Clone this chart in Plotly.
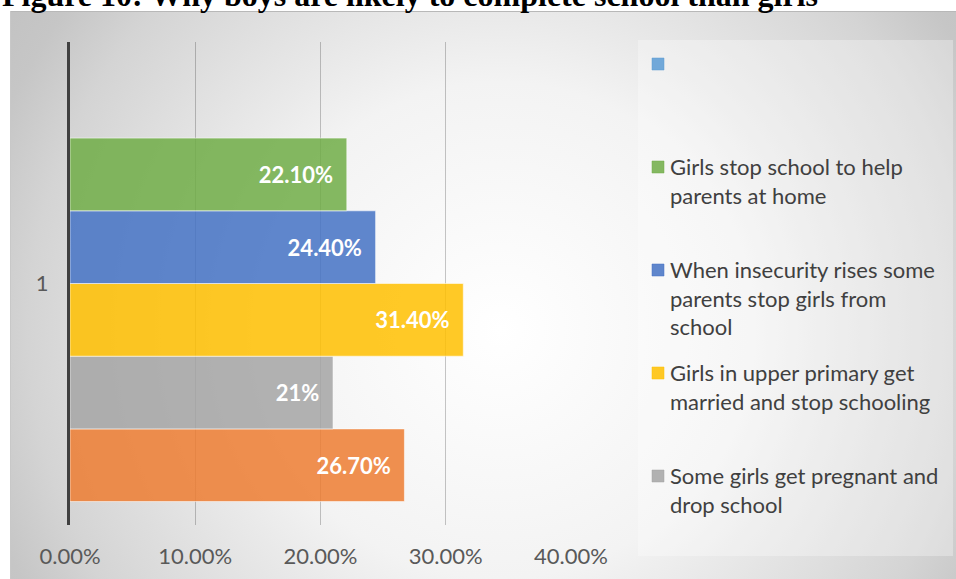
import base64
import plotly.graph_objects as go

W, H = 956, 579

# ---------------- data ----------------
category = ["1"]
# bottom -> top order of the bars
series_names = [
    "",  # orange series (its legend entry is cut off in the original)
    "Some girls get pregnant and<br>drop school",
    "Girls in upper primary get<br>married and stop schooling",
    "When insecurity rises some<br>parents stop girls from<br>school",
    "Girls stop school to help<br>parents at home",
    "",  # empty series shown only in legend
]
series_values = [0.267, 0.21, 0.314, 0.244, 0.221, None]
series_labels = ["26.70%", "21%", "31.40%", "24.40%", "22.10%", ""]
series_colors = ["#ed7d31", "#a5a5a5", "#ffc000", "#4472c4", "#70ad47", "#5b9bd5"]
in_legend = [False, True, True, True, True, True]

x_ticks = [0, 0.1, 0.2, 0.3, 0.4]
x_tick_text = ["0.00%", "10.00%", "20.00%", "30.00%", "40.00%"]

title_text = "Figure 10: Why boys are likely to complete school than girls"


def rgba(hexc, a):
    h = hexc.lstrip("#")
    r, g, b = int(h[0:2], 16), int(h[2:4], 16), int(h[4:6], 16)
    return f"rgba({r},{g},{b},{a})"


def px(x):
    return x / W


def py(y):
    return 1 - y / H


# ---------------- background (radial gradient) ----------------
svg = f'''<svg xmlns="http://www.w3.org/2000/svg" width="{W}" height="{H}" viewBox="0 0 {W} {H}" preserveAspectRatio="none">
<defs>
<radialGradient id="g" gradientUnits="userSpaceOnUse" cx="500" cy="330" r="620">
<stop offset="0" stop-color="#ffffff"/>
<stop offset="0.40" stop-color="#f3f3f3"/>
<stop offset="0.50" stop-color="#eaeaea"/>
<stop offset="0.76" stop-color="#d4d4d4"/>
<stop offset="0.87" stop-color="#c6c6c6"/>
<stop offset="1" stop-color="#c0c0c0"/>
</radialGradient>
</defs>
<rect x="0" y="0" width="{W}" height="{H}" fill="#ffffff"/>
<rect x="10" y="11" width="{W-10}" height="{H-11}" fill="url(#g)"/>
<line x1="10" y1="11.5" x2="{W}" y2="11.5" stroke="#b8b8b8" stroke-width="1"/>
<line x1="10.5" y1="11" x2="10.5" y2="{H}" stroke="#c8c8c8" stroke-width="1"/>
<rect x="638" y="40" width="315" height="516" fill="rgba(255,255,255,0.3)"/>
</svg>'''
bg_uri = "data:image/svg+xml;base64," + base64.b64encode(svg.encode()).decode()

fig = go.Figure()

for name, val, lab, col in zip(series_names, series_values, series_labels, series_colors):
    fig.add_trace(go.Bar(
        y=category,
        x=[val],
        orientation="h",
        name=name,
        text=[lab + "\u00a0\u00a0" if lab else ""],
        textposition="inside",
        insidetextanchor="end",
        textangle=0,
        constraintext="none",
        textfont=dict(family="Lato", size=22, color="#ffffff", weight="bold"),
        marker=dict(color=rgba(col, 0.85),
                    line=dict(color="rgba(255,255,255,0.55)", width=1)),
        showlegend=False,
        hoverinfo="skip",
    ))

fig.update_layout(
    width=W, height=H, autosize=False,
    margin=dict(l=0, r=0, t=0, b=0, pad=0, autoexpand=False),
    paper_bgcolor="rgba(0,0,0,0)",
    plot_bgcolor="rgba(0,0,0,0)",
    barmode="group",
    bargap=0.097,
    bargroupgap=0,
    showlegend=False,
    xaxis=dict(
        domain=[px(70), px(571)],
        range=[0, 0.4],
        tickvals=x_ticks,
        ticktext=x_tick_text,
        showgrid=True,
        gridcolor="rgba(0,0,0,0.22)",
        gridwidth=1,
        zeroline=False,
        showline=False,
        ticks="",
        automargin=False,
        ticklabelstandoff=16,
        tickfont=dict(family="Lato", size=22, color="#595959"),
    ),
    yaxis=dict(
        domain=[py(525), py(42)],
        type="category",
        showgrid=False,
        zeroline=False,
        showline=True,
        linecolor="#404040",
        linewidth=3,
        ticks="",
        automargin=False,
        ticklabelstandoff=14,
        tickfont=dict(family="Lato", size=22, color="#595959"),
    ),
    images=[dict(
        source=bg_uri, xref="paper", yref="paper",
        x=0, y=1, sizex=1, sizey=1,
        xanchor="left", yanchor="top",
        sizing="stretch", layer="below",
    )],
)

annotations = [dict(
    text=f"<b>{title_text}</b>",
    xref="paper", yref="paper",
    x=0, y=py(15), xanchor="left", yanchor="bottom",
    showarrow=False,
    font=dict(family="Liberation Serif", size=32, color="#000000"),
)]
shapes = []

# legend (top -> bottom), drawn manually to match the spaced layout
legend_items = [(n, c) for n, c, s in zip(series_names, series_colors, in_legend) if s][::-1]
for i, (name, col) in enumerate(legend_items):
    yc = 64 + 103 * i
    shapes.append(dict(
        type="rect", xref="paper", yref="paper",
        x0=px(652), x1=px(664), y0=py(yc + 6), y1=py(yc - 6),
        fillcolor=rgba(col, 0.85), line=dict(color=rgba(col, 0.5), width=1),
        layer="above",
    ))
    if name:
        annotations.append(dict(
            text=name, xref="paper", yref="paper",
            x=px(668), y=py(yc - 16), xanchor="left", yanchor="top",
            align="left", showarrow=False,
            font=dict(family="Lato", size=22, color="#404040"),
        ))

fig.update_layout(annotations=annotations, shapes=shapes)

fig.write_html("out.html")
